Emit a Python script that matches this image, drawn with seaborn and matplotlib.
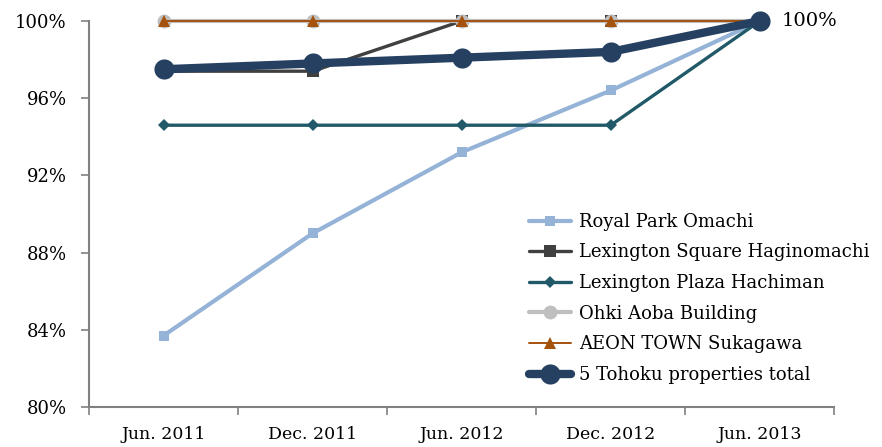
import numpy as np
import pandas as pd
import matplotlib
matplotlib.use('Agg')
import matplotlib.pyplot as plt
import seaborn as sns

# DATA
periods = ['Jun. 2011', 'Dec. 2011', 'Jun. 2012', 'Dec. 2012', 'Jun. 2013']
royal_park = [83.7, 89.0, 93.2, 96.4, 100.0]
lex_square = [97.4, 97.4, 100.0, 100.0, 100.0]
lex_plaza = [94.6, 94.6, 94.6, 94.6, 100.0]
ohki_aoba = [100.0, 100.0, 100.0, 100.0, 100.0]
aeon_town = [100.0, 100.0, 100.0, 100.0, 100.0]
tohoku_total = [97.5, 97.8, 98.1, 98.4, 100.0]
y_ticks = [80, 84, 88, 92, 96, 100]

series = [
    ('Royal Park Omachi', royal_park, '#95B3D7', 's', 3.0, 7),
    ('Lexington Square Haginomachi', lex_square, '#404040', 's', 2.4, 8.5),
    ('Lexington Plaza Hachiman', lex_plaza, '#215968', 'D', 2.4, 6.5),
    ('Ohki Aoba Building', ohki_aoba, '#BFBFBF', 'o', 3.0, 10),
    ('AEON TOWN Sukagawa', aeon_town, '#A5520F', '^', 1.4, 8),
    ('5 Tohoku properties total', tohoku_total, '#254061', 'o', 6.0, 14.5),
]

sns.set_style('white')
plt.rcParams['font.family'] = ['DejaVu Serif']
plt.rcParams['text.color'] = 'black'
plt.rcParams['xtick.color'] = 'black'
plt.rcParams['ytick.color'] = 'black'

fig = plt.figure(figsize=(8.82, 4.47), dpi=100)
ax = fig.add_axes([0.101, 0.0895, 0.845, 0.8635])

for name, vals, color, marker, lw, ms in series:
    df = pd.DataFrame({'x': np.arange(len(periods)), 'y': vals})
    sns.lineplot(data=df, x='x', y='y', ax=ax, color=color, marker=marker,
                 linewidth=lw, markersize=ms, markeredgewidth=0,
                 label=name, clip_on=False)

ax.annotate('100%', xy=(len(periods) - 1, tohoku_total[-1]), xytext=(16, 0),
            textcoords='offset points', va='center', ha='left', fontsize=14)

ax.set_xlim(-0.5, len(periods) - 0.5)
ax.set_ylim(80, 100)
ax.set_yticks(y_ticks)
ax.set_yticklabels([f'{t}%' for t in y_ticks])
ax.set_xticks(np.arange(len(periods)))
ax.set_xticklabels(periods)
ax.set_xticks(np.arange(len(periods) + 1) - 0.5, minor=True)
ax.tick_params(axis='x', which='major', length=0, labelsize=12.5, pad=14)
ax.tick_params(axis='x', which='minor', length=6, width=1.2, color='#808080',
               direction='out', bottom=True)
ax.tick_params(axis='y', length=6, width=1.2, color='#808080', direction='out',
               left=True, labelsize=13, pad=10)
ax.set_xlabel('')
ax.set_ylabel('')

for side in ['top', 'right']:
    ax.spines[side].set_visible(False)
for side in ['left', 'bottom']:
    ax.spines[side].set_color('#808080')
    ax.spines[side].set_linewidth(1.5)

ax.legend(loc='upper left', bbox_to_anchor=(0.592, 0.54), bbox_transform=fig.transFigure,
          frameon=False, fontsize=13, handlelength=2.3, labelspacing=0.7,
          handletextpad=0.45, borderaxespad=0)

fig.savefig('out.png', dpi=100)
